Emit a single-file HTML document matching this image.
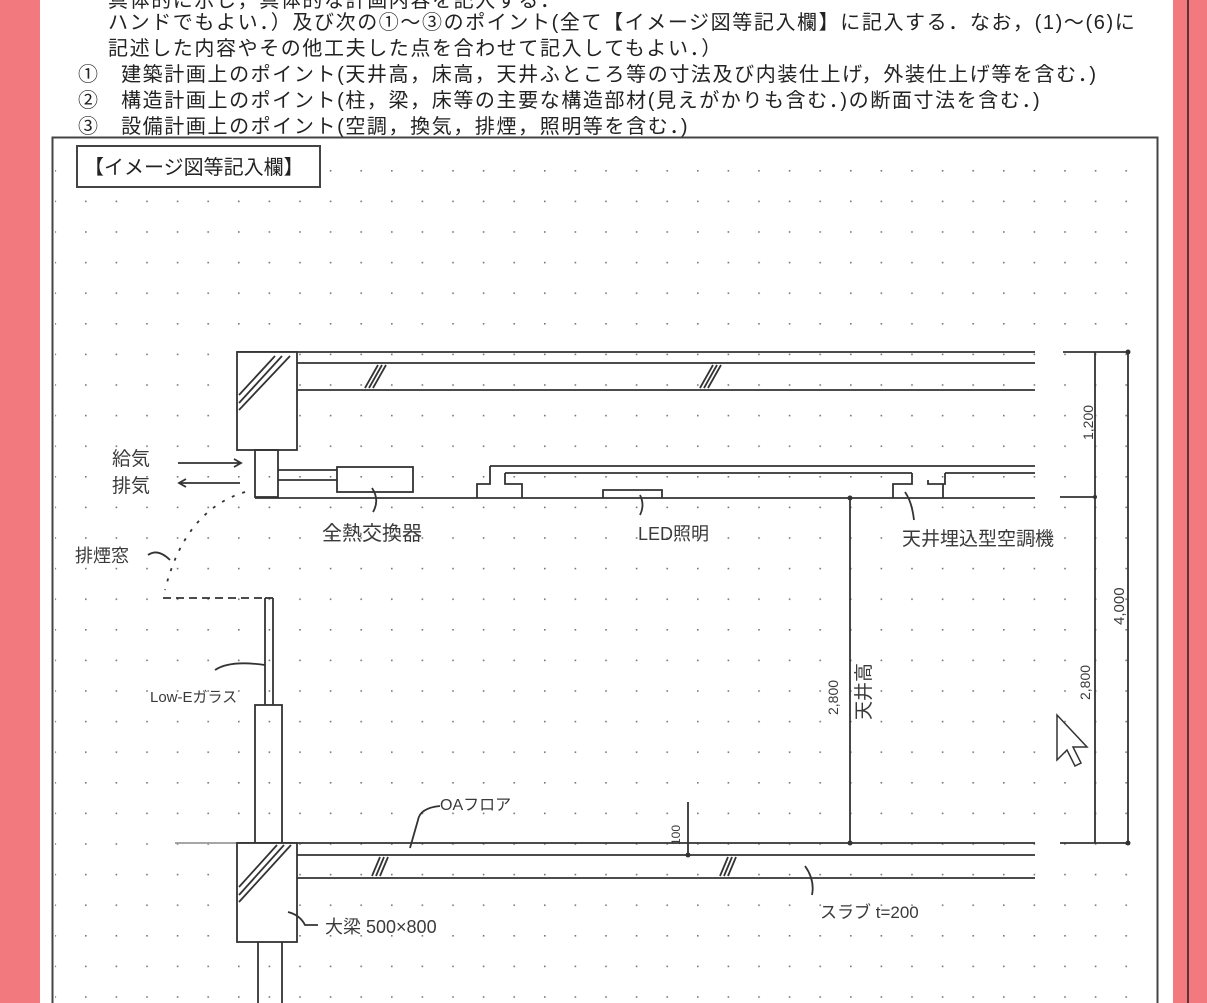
<!DOCTYPE html>
<html><head><meta charset="utf-8"><style>
html,body{margin:0;padding:0;background:#fff}
body{width:1207px;height:1003px;position:relative;overflow:hidden;font-family:"Liberation Sans","Noto Sans CJK JP",sans-serif}
.t{position:absolute;font-size:20px;color:#222;white-space:nowrap;letter-spacing:1.6px;font-family:"Liberation Sans","Noto Sans CJK JP",sans-serif}
</style></head><body>
<div style="position:absolute;left:0;top:0;width:40px;height:1003px;background:#f27a7e"></div>
<div style="position:absolute;left:1173px;top:0;width:34px;height:1003px;background:#f27a7e"></div>
<div style="position:absolute;left:1187px;top:0;width:2px;height:1003px;background:#5a3434"></div>
<div class="t" style="left:108px;top:-16px">具体的に示し，具体的な計画内容を記入する．</div>
<div class="t" style="left:108px;top:6px">ハンドでもよい．）及び次の①～③のポイント(全て【イメージ図等記入欄】に記入する．なお，(1)～(6)に</div>
<div class="t" style="left:108px;top:32px">記述した内容やその他工夫した点を合わせて記入してもよい．）</div>
<div class="t" style="left:78px;top:58px">①&nbsp;&nbsp;&nbsp;建築計画上のポイント(天井高，床高，天井ふところ等の寸法及び内装仕上げ，外装仕上げ等を含む．)</div>
<div class="t" style="left:78px;top:84px">②&nbsp;&nbsp;&nbsp;構造計画上のポイント(柱，梁，床等の主要な構造部材(見えがかりも含む．)の断面寸法を含む．)</div>
<div class="t" style="left:78px;top:110px">③&nbsp;&nbsp;&nbsp;設備計画上のポイント(空調，換気，排煙，照明等を含む．)</div>
<svg width="1207" height="1003" style="position:absolute;left:0;top:0" xmlns="http://www.w3.org/2000/svg">
<defs><pattern id="g" x="85" y="170" width="30.6" height="30.6" patternUnits="userSpaceOnUse"><rect x="0" y="0" width="1.6" height="1.6" fill="#777"/></pattern></defs>
<rect x="55" y="160" width="1100" height="843" fill="url(#g)"/>
<rect x="52.5" y="137.5" width="1105" height="880" fill="none" stroke="#444" stroke-width="2"/>
<rect x="77" y="146" width="243" height="41" fill="#fff" stroke="#444" stroke-width="2"/>
<text x="84" y="174" font-size="20" fill="#222" font-family="Liberation Sans,Noto Sans CJK JP,sans-serif">【イメージ図等記入欄】</text>
<g stroke="#333" stroke-width="1.8" fill="none">
<line x1="237" y1="352" x2="1035" y2="352"/>
<line x1="297" y1="363" x2="1035" y2="363"/>
<line x1="297" y1="390" x2="1035" y2="390"/>
<rect x="237" y="352" width="60" height="98" fill="#fff"/>
<path d="M239 395 L275 356 M239 403 L282 356 M239 410 L290 356"/>
<path d="M365 388 L378 365 M369 388 L382 365 M373 388 L386 365"/>
<path d="M700 388 L713 365 M704 388 L717 365 M708 388 L721 365"/>
<rect x="255" y="450" width="23" height="47"/>
<line x1="278" y1="470" x2="337" y2="470"/>
<line x1="278" y1="480" x2="337" y2="480"/>
<rect x="337" y="467" width="76" height="25"/>
<line x1="255" y1="498" x2="1035" y2="498"/>
<line x1="490" y1="466" x2="1035" y2="466"/>
<line x1="505" y1="473" x2="912" y2="473"/>
<line x1="945" y1="473" x2="1035" y2="473"/>
<path d="M477 498 V484 H490 V466 M505 473 V484 H522 V498"/>
<path d="M603 498 V490 H662 V498"/>
<path d="M893 498 V484 H912 V473 M945 473 V484 H928 V480 M943 484 V498"/>
<line x1="265" y1="598" x2="265" y2="705"/>
<line x1="273" y1="598" x2="273" y2="705"/>
<line x1="265" y1="598" x2="273" y2="598"/>
<rect x="255" y="705" width="27" height="138"/>
<line x1="163" y1="598" x2="265" y2="598" stroke-dasharray="8 5"/>
<path d="M245 492 Q185 510 165 590" stroke-dasharray="3 8"/>
<line x1="175" y1="843" x2="237" y2="843" stroke="#999"/>
<line x1="237" y1="843" x2="1035" y2="843"/>
<line x1="297" y1="855" x2="1035" y2="855"/>
<line x1="297" y1="878" x2="1035" y2="878"/>
<rect x="237" y="843" width="60" height="99" fill="#fff"/>
<path d="M239 887 L277 845 M239 895 L284 845 M239 902 L291 845"/>
<path d="M372 876 L380 857 M376 876 L384 857 M380 876 L388 857"/>
<path d="M720 876 L728 857 M724 876 L732 857 M728 876 L736 857"/>
<line x1="258" y1="942" x2="258" y2="1003"/>
<line x1="282" y1="942" x2="282" y2="1003"/>
<line x1="850" y1="498" x2="850" y2="843"/>
<line x1="688" y1="802" x2="688" y2="855"/>
<line x1="1063" y1="352" x2="1128" y2="352"/>
<line x1="1060" y1="497" x2="1095" y2="497"/>
<line x1="1060" y1="843" x2="1128" y2="843"/>
<line x1="1095" y1="352" x2="1095" y2="843"/>
<line x1="1128" y1="352" x2="1128" y2="843"/>
<path d="M178 463 H240 M234 459 L241 463 L234 467"/>
<path d="M240 483 H180 M186 479 L179 483 L186 487"/>
<path d="M372 488 Q380 500 373 512"/>
<path d="M640 495 Q645 505 640 515"/>
<path d="M905 492 Q912 502 914 520"/>
<path d="M148 555 Q158 548 170 560"/>
<path d="M215 670 Q230 660 265 665"/>
<path d="M410 848 L418 820 Q420 808 440 806"/>
<path d="M805 866 Q815 880 812 895"/>
<path d="M288 912 Q300 915 305 925 H318"/>
</g>
<g fill="#333"><circle cx="850" cy="498" r="2.5"/><circle cx="850" cy="843" r="2.5"/><circle cx="688" cy="855" r="2.5"/><circle cx="1128" cy="352" r="2.5"/><circle cx="1128" cy="843" r="2.5"/><circle cx="1095" cy="497" r="2"/></g>
<g fill="#3a3a3a" font-family="Liberation Sans,Noto Sans CJK JP,sans-serif" font-size="19">
<text x="112" y="465">給気</text>
<text x="112" y="492">排気</text>
<text x="322" y="540" font-size="20">全熱交換器</text>
<text x="638" y="540" font-size="18">LED照明</text>
<text x="902" y="545" font-size="19">天井埋込型空調機</text>
<text x="75" y="562" font-size="18">排煙窓</text>
<text x="150" y="702" font-size="15">Low-Eガラス</text>
<text x="440" y="810" font-size="16">OAフロア</text>
<text x="325" y="933" font-size="18">大梁 500×800</text>
<text x="820" y="918" font-size="17">スラブ t=200</text>
<text transform="translate(680,845) rotate(-90)" font-size="12">100</text>
<text transform="translate(870,720) rotate(-90)" font-size="19">天井高</text>
<text transform="translate(838,715) rotate(-90)" font-size="14">2,800</text>
<text transform="translate(1093,440) rotate(-90)" font-size="14">1,200</text>
<text transform="translate(1124,625) rotate(-90)" font-size="15">4,000</text>
<text transform="translate(1090,700) rotate(-90)" font-size="14">2,800</text>
</g>
<path d="M1057 715 L1057 760 L1067 750 L1075 766 L1081 763 L1073 747 L1087 747 Z" fill="#fff" stroke="#333" stroke-width="1.5"/>
</svg>
</body></html>
